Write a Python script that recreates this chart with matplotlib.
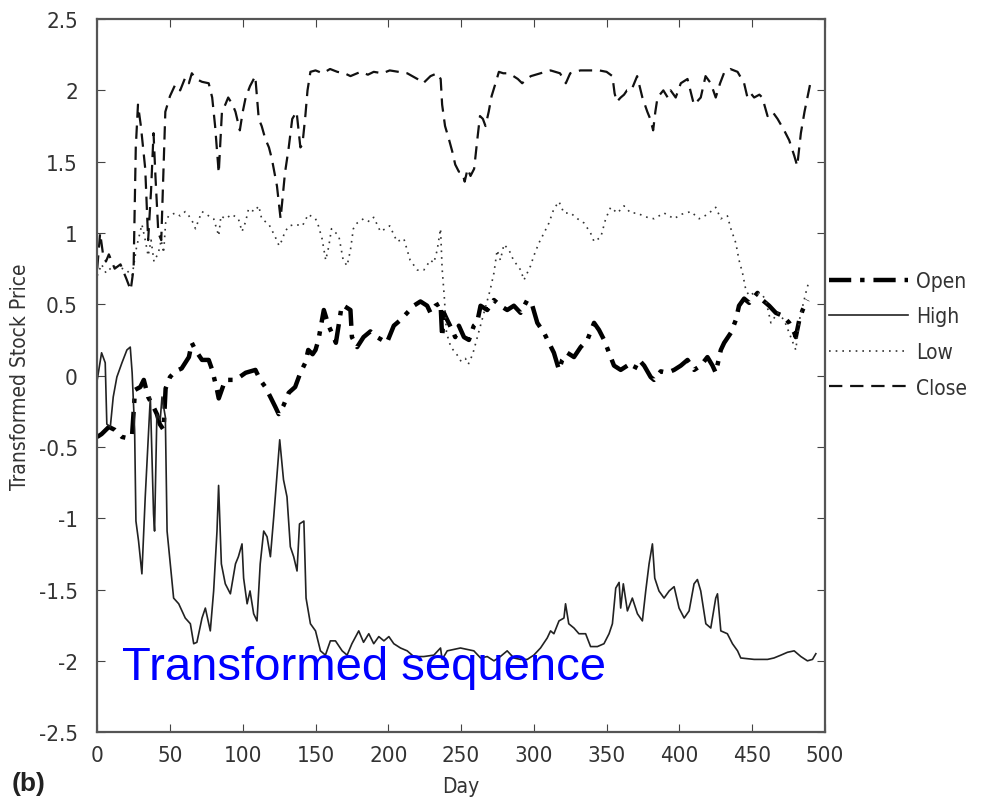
import matplotlib
matplotlib.use("Agg")
import matplotlib.pyplot as plt

plt.rcParams['font.family'] = ['DejaVu Sans']
plt.rcParams['font.stretch'] = 'condensed'

# ---- data ----
open_day = [0, 3, 8, 12, 17, 21.5, 24, 26, 29.6, 32, 35, 38.7, 41, 43, 45.6, 47, 50, 53.6, 58, 63,
            65, 67.4, 72, 76.6, 79, 82.3, 83.5, 88, 95, 102, 108.7, 112, 115.5, 119, 122.4, 124.7,
            128, 131.6, 136, 139.6, 143, 145, 148, 150, 152, 155.7, 159, 162.5, 164, 168, 169.4,
            174, 175, 178.6, 183, 187.7, 192.3, 199, 203.8, 208.4, 213, 217.5, 222.1, 226.7, 229,
            232.4, 235.9, 237, 238.2, 240.5, 243.9, 246, 248.5, 252, 255.4, 258.8, 261, 263.4, 268,
            272.6, 277, 281.7, 286.3, 290.9, 295.5, 299, 302.4, 307, 310.4, 313.8, 317.3, 319.5,
            323, 327.6, 332.2, 336.8, 341.4, 344.8, 348.3, 351.7, 355.1, 359.7, 364.3, 368.9, 372.3,
            375.8, 380.3, 382.6, 387.2, 391.8, 396.4, 401, 405.6, 410.2, 414.7, 419.3, 422.8, 425,
            428.5, 430.8, 435.4, 438.8, 441, 444.5, 448, 453.7, 457.1, 461.7, 466.3, 470.9, 475.5,
            479, 480, 482.4, 484.7, 488.1]
open_val = [-0.43, -0.41, -0.36, -0.38, -0.43, -0.44, -0.41, -0.10, -0.08, -0.03, -0.15, -0.22,
            -0.27, -0.34, -0.38, -0.09, -0.01, 0.03, 0.05, 0.13, 0.23, 0.18, 0.11, 0.11, 0.04,
            -0.10, -0.16, -0.03, -0.03, 0.02, 0.04, -0.03, -0.08, -0.15, -0.22, -0.27, -0.21,
            -0.12, -0.08, 0.02, 0.09, 0.18, 0.15, 0.18, 0.25, 0.46, 0.35, 0.27, 0.23, 0.49, 0.49,
            0.46, 0.27, 0.20, 0.27, 0.31, 0.27, 0.23, 0.35, 0.39, 0.44, 0.49, 0.52, 0.49, 0.44,
            0.49, 0.51, 0.27, 0.44, 0.39, 0.32, 0.27, 0.35, 0.27, 0.25, 0.35, 0.37, 0.49, 0.46,
            0.53, 0.49, 0.46, 0.49, 0.44, 0.53, 0.49, 0.37, 0.30, 0.23, 0.16, 0.04, 0.11, 0.16,
            0.13, 0.20, 0.25, 0.37, 0.32, 0.25, 0.16, 0.07, 0.04, 0.07, 0.04, 0.11, 0.07, -0.01,
            -0.03, 0.03, 0.02, 0.04, 0.07, 0.11, 0.04, 0.07, 0.13, 0.07, 0.02, 0.18, 0.23, 0.30,
            0.39, 0.49, 0.54, 0.51, 0.58, 0.53, 0.49, 0.44, 0.42, 0.37, 0.30, 0.27, 0.39, 0.46,
            0.53]

high_day = [0, 3, 5.5, 6.6, 9, 11, 13.5, 17, 20.4, 22.7, 24, 25.7, 26.6, 28.4, 30.7, 33, 35.3,
            36.5, 38.7, 39.4, 41, 43.3, 44.5, 46.8, 48, 50.2, 52.5, 56, 60.5, 64, 66.3, 68.5, 72,
            74.3, 77.7, 80, 82.3, 83.4, 85.3, 88, 91.5, 95, 97, 99.5, 100.6, 103, 105, 107.5,
            109.8, 112, 114.4, 116.7, 119, 121.3, 123.6, 125.4, 128, 130.4, 132.7, 135, 137.3,
            139, 142, 143.5, 146.5, 150, 153.4, 156.8, 160.2, 163.7, 168.3, 171.7, 175, 179.7,
            183, 186.6, 190, 193.5, 197, 200.4, 203.8, 208.4, 213, 217.5, 224.4, 231.3, 235.9,
            237, 240.5, 245, 249.6, 254.2, 258.8, 263.4, 268, 272.6, 277, 281.7, 286.3, 290.9,
            295.5, 300, 304.6, 309.2, 311.5, 313.8, 317.3, 320.7, 321.8, 324, 327.6, 331, 335.6,
            339, 343.7, 348.2, 351.7, 354, 356.3, 358.6, 359.7, 361.5, 364.3, 367.7, 371.2, 374.6,
            376.9, 379.2, 381.5, 383.1, 386, 389.5, 393, 396.4, 399.8, 403.3, 406.7, 410.1, 412.4,
            414.7, 418.2, 421.6, 425, 426.2, 428.5, 433, 436.5, 440, 442.2, 451.4, 460.6, 465,
            469.8, 474.3, 478.9, 483.5, 488, 491.5, 493.8]
high_val = [-0.03, 0.16, 0.09, -0.34, -0.36, -0.15, -0.01, 0.09, 0.18, 0.20, 0.02, -0.38, -1.02,
            -1.16, -1.39, -0.85, -0.38, -0.15, -0.97, -1.09, -0.27, -0.31, -0.15, -0.29, -1.09,
            -1.32, -1.56, -1.60, -1.70, -1.74, -1.88, -1.87, -1.70, -1.63, -1.79, -1.51, -1.09,
            -0.77, -1.32, -1.46, -1.53, -1.32, -1.27, -1.18, -1.42, -1.60, -1.51, -1.67, -1.72,
            -1.32, -1.09, -1.13, -1.27, -0.99, -0.69, -0.45, -0.73, -0.85, -1.20, -1.27, -1.37,
            -1.04, -1.02, -1.56, -1.74, -1.79, -1.93, -1.96, -1.86, -1.86, -1.93, -1.96, -1.88,
            -1.79, -1.87, -1.81, -1.88, -1.83, -1.86, -1.83, -1.88, -1.91, -1.93, -1.97, -1.97,
            -1.96, -1.91, -1.99, -1.93, -1.92, -1.91, -1.92, -1.93, -1.98, -1.97, -2.00, -1.97,
            -1.93, -1.98, -1.99, -1.99, -1.96, -1.91, -1.84, -1.79, -1.81, -1.72, -1.70, -1.60,
            -1.74, -1.77, -1.81, -1.81, -1.90, -1.90, -1.88, -1.81, -1.74, -1.49, -1.45, -1.63,
            -1.46, -1.65, -1.56, -1.67, -1.72, -1.51, -1.32, -1.18, -1.42, -1.51, -1.56, -1.51,
            -1.48, -1.63, -1.70, -1.65, -1.46, -1.43, -1.51, -1.74, -1.77, -1.56, -1.53, -1.79,
            -1.81, -1.88, -1.93, -1.98, -1.99, -1.99, -1.98, -1.96, -1.94, -1.93, -1.97, -2.00,
            -1.99, -1.95]

low_day = [0, 3, 6, 10, 15, 20, 24, 27, 30.7, 33, 35, 37, 39, 42, 44, 45.6, 47, 49, 53.6, 57,
           60.5, 63, 66, 67.5, 70, 72, 76.6, 80, 83.5, 85, 88, 92.6, 97, 99.5, 102, 104, 108, 111,
           113, 118, 122, 125, 127, 129, 132, 136, 141, 145, 150, 152, 154.5, 157, 159, 161, 164,
           166, 169, 171.7, 174, 176, 178.6, 183, 187, 190, 194.6, 198, 201, 206, 210.7, 215, 220,
           224.4, 229, 231.3, 233.6, 235.9, 237, 238.5, 240, 243, 247, 250, 253, 255, 258, 262,
           266, 270, 272.6, 274.8, 277, 279.5, 283, 286, 291, 293.2, 297.8, 300, 303.5, 307,
           310.4, 313.8, 317.3, 320.7, 325.3, 330, 334.5, 339, 341.4, 346, 349.4, 352.8, 357.4,
           362, 366.6, 371.2, 375, 378, 382.6, 389.5, 396.4, 401, 407.9, 413.6, 419.3, 425, 428.5,
           433, 435.4, 438.8, 441, 443.4, 445.7, 448, 451.4, 456, 459.4, 462.9, 467.5, 472, 476.6,
           480, 482.5, 486.9, 489]
low_val = [0.70, 0.78, 0.72, 0.76, 0.76, 0.74, 0.70, 0.90, 1.06, 0.95, 0.84, 0.95, 0.80, 0.86,
           0.95, 0.86, 1.07, 1.12, 1.14, 1.12, 1.15, 1.12, 1.07, 1.03, 1.10, 1.15, 1.12, 1.10,
           0.98, 1.12, 1.10, 1.13, 1.10, 1.01, 1.08, 1.17, 1.15, 1.19, 1.10, 1.06, 0.98, 0.91,
           0.95, 1.01, 1.05, 1.06, 1.05, 1.13, 1.10, 1.05, 0.96, 0.81, 0.90, 1.03, 1.00, 0.98,
           0.81, 0.77, 0.88, 1.03, 1.07, 1.10, 1.08, 1.11, 1.01, 1.03, 1.05, 0.94, 0.96, 0.81,
           0.74, 0.74, 0.81, 0.79, 0.88, 1.03, 0.75, 0.55, 0.30, 0.20, 0.15, 0.10, 0.12, 0.08,
           0.15, 0.30, 0.45, 0.60, 0.72, 0.88, 0.81, 0.92, 0.88, 0.81, 0.74, 0.67, 0.77, 0.84,
           0.93, 1.00, 1.07, 1.17, 1.22, 1.14, 1.14, 1.10, 1.07, 1.00, 0.94, 0.97, 1.10, 1.18,
           1.14, 1.19, 1.14, 1.14, 1.12, 1.11, 1.10, 1.14, 1.10, 1.13, 1.15, 1.10, 1.13, 1.18,
           1.10, 1.12, 1.03, 0.93, 0.81, 0.72, 0.60, 0.56, 0.58, 0.58, 0.53, 0.37, 0.44, 0.39,
           0.27, 0.18, 0.39, 0.58, 0.66]

close_day = [0, 2, 4, 6, 8, 12, 16, 20, 23, 25, 26.5, 28, 30, 33, 35, 37, 38.7, 40, 42, 44, 46.8,
             50, 53.6, 57, 60.5, 63, 65, 68, 72, 76.6, 79, 81, 83.5, 85.7, 88, 90, 93, 95, 98, 100,
             102, 105, 108.6, 111, 113, 115.5, 118, 120, 123.5, 126, 129, 131.6, 134, 137, 139.6,
             141, 143, 144.5, 146.5, 150, 155, 160, 165, 170, 174, 181, 186, 190, 196, 201, 207,
             213, 220, 224, 229, 233.6, 236, 237, 239, 241.6, 244, 246, 248.5, 251, 252.5, 254.5,
             256.5, 259, 261, 263, 265, 266.8, 269, 271, 273.7, 276, 279, 281.7, 286, 289, 292,
             295, 298, 304.6, 311.5, 318, 322, 325, 332, 339, 345, 350, 354, 355.5, 357, 359.7,
             362, 364, 367, 369, 371, 374.6, 378, 380, 382, 383.5, 385, 389, 392, 394, 397.5, 401,
             405.6, 410, 412, 414.7, 418, 421.6, 425, 428, 431, 435, 440, 444.5, 446.8, 449, 451.4,
             455, 457, 460.6, 464, 467.5, 472, 475.5, 479, 481, 483.5, 486, 488, 490, 492]
close_val = [0.75, 1.00, 0.85, 0.80, 0.85, 0.75, 0.78, 0.68, 0.60, 0.75, 1.60, 1.90, 1.75, 1.45,
             0.95, 1.30, 1.70, 1.40, 1.00, 0.95, 1.85, 1.96, 2.04, 2.00, 2.09, 2.05, 2.12, 2.08,
             2.06, 2.05, 1.95, 1.75, 1.42, 1.85, 1.90, 1.95, 1.90, 1.85, 1.72, 1.85, 1.95, 2.03,
             2.10, 1.80, 1.75, 1.66, 1.60, 1.52, 1.33, 1.10, 1.42, 1.60, 1.80, 1.85, 1.60, 1.62,
             1.82, 2.00, 2.13, 2.14, 2.12, 2.15, 2.13, 2.12, 2.10, 2.13, 2.11, 2.13, 2.12, 2.14,
             2.13, 2.12, 2.08, 2.05, 2.10, 2.12, 2.08, 1.90, 1.75, 1.66, 1.57, 1.48, 1.43, 1.42,
             1.36, 1.45, 1.40, 1.45, 1.64, 1.82, 1.80, 1.75, 1.85, 1.96, 2.05, 2.13, 2.12, 2.12,
             2.10, 2.08, 2.05, 2.08, 2.10, 2.12, 2.14, 2.12, 2.05, 2.12, 2.14, 2.14, 2.14, 2.13,
             2.10, 1.98, 1.92, 1.95, 1.97, 2.00, 2.00, 2.05, 2.10, 1.95, 1.85, 1.80, 1.72, 1.85,
             1.95, 2.00, 1.95, 2.00, 1.95, 2.05, 2.08, 1.90, 1.92, 1.95, 2.10, 2.05, 1.95, 2.05,
             2.13, 2.15, 2.13, 2.05, 1.95, 1.98, 1.95, 1.97, 1.95, 1.82, 1.85, 1.80, 1.72, 1.65,
             1.54, 1.47, 1.70, 1.85, 1.95, 2.05, 2.05]

yticks = [-2.5, -2, -1.5, -1, -0.5, 0, 0.5, 1, 1.5, 2, 2.5]
xticks = [0, 50, 100, 150, 200, 250, 300, 350, 400, 450, 500]

fig = plt.figure(figsize=(9.82, 8.03), dpi=100)
ax = fig.add_axes([0.099, 0.087, 0.741, 0.888])

ax.plot(open_day, open_val, color='black', lw=3.2, dashes=(5, 2, 1, 2), label='Open')
ax.plot(high_day, high_val, color='#222222', lw=1.2, label='High')
ax.plot(low_day, low_val, color='#333333', lw=1.2, ls=(0, (1, 3)), label='Low')
ax.plot(close_day, close_val, color='#111111', lw=1.6, dashes=(6, 3.5), label='Close')

ax.set_xlim(0, 500)
ax.set_ylim(-2.5, 2.5)
ax.set_xticks(xticks)
ax.set_yticks(yticks)
ax.set_yticklabels([f"{v:g}" for v in yticks])
ax.tick_params(direction='in', top=True, right=True, length=6, labelsize=16,
               labelcolor='#333333', color='#444444')
ax.tick_params(axis='y', pad=14)
ax.tick_params(axis='x', pad=9)
for s in ax.spines.values():
    s.set_color('#555555')
    s.set_linewidth(1.6)

ax.set_xlabel('Day', fontsize=15, color='#333333', labelpad=8)
ax.set_ylabel('Transformed Stock Price', fontsize=15, color='#333333', labelpad=6)

ax.text(0.034, 0.075, 'Transformed sequence', transform=ax.transAxes, fontsize=34,
        color='blue', family='Liberation Sans', fontstretch='normal')
fig.text(0.012, 0.015, '(b)', fontsize=19, fontweight='bold', color='#222222',
         family='Liberation Sans', fontstretch='normal')

leg = ax.legend(loc='center left', bbox_to_anchor=(1.005, 0.558), frameon=False,
                fontsize=15, handlelength=3.8, handletextpad=0.4, labelspacing=0.75,
                borderaxespad=0, borderpad=0)
for t in leg.get_texts():
    t.set_color('#333333')

fig.savefig('out.png', dpi=100)
